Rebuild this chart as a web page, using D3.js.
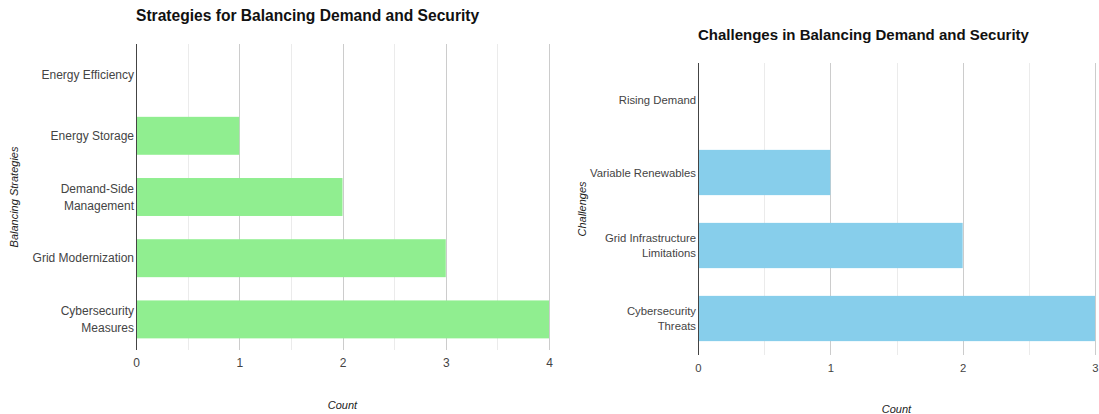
<!DOCTYPE html>
<html>
<head>
<meta charset="utf-8">
<script src="https://cdn.jsdelivr.net/npm/d3@7"></script>
<style>
  html, body { margin: 0; padding: 0; background: #fff; }
  svg { display: block; font-family: "Liberation Sans", Arial, sans-serif; }
</style>
</head>
<body>
<svg id="chart" width="1099" height="414"></svg>
<script>
// ---- data ----
const strategyCategories = ["Energy Efficiency", "Energy Storage", "Demand-Side\nManagement", "Grid Modernization", "Cybersecurity\nMeasures"];
const strategyValues = [0, 1, 2, 3, 4];
const strategyTicks = [0, 1, 2, 3, 4];

const challengeCategories = ["Rising Demand", "Variable Renewables", "Grid Infrastructure\nLimitations", "Cybersecurity\nThreats"];
const challengeValues = [0, 1, 2, 3];
const challengeTicks = [0, 1, 2, 3];

const titles = ["Strategies for Balancing Demand and Security", "Challenges in Balancing Demand and Security"];
const yTitles = ["Balancing Strategies", "Challenges"];
const xTitle = "Count";

const svg = d3.select("#chart");

function drawPanel(cfg) {
  const g = svg.append("g");
  const x = d3.scaleLinear().domain([0, cfg.max]).range([cfg.left, cfg.right]);
  const y = d3.scaleBand().domain(cfg.cats).range([cfg.top, cfg.bottom]).paddingInner(0.38).paddingOuter(0.19);

  // minor gridlines
  const minor = d3.range(0.5, cfg.max, 1);
  g.selectAll(".minor").data(minor).enter().append("line")
    .attr("x1", d => Math.round(x(d)) + 0.5).attr("x2", d => Math.round(x(d)) + 0.5)
    .attr("y1", cfg.top).attr("y2", cfg.bottom)
    .attr("stroke", "#ebebeb").attr("stroke-width", 1);
  // major gridlines
  g.selectAll(".major").data(cfg.ticks.filter(t => t > 0)).enter().append("line")
    .attr("x1", d => Math.round(x(d)) + 0.5).attr("x2", d => Math.round(x(d)) + 0.5)
    .attr("y1", cfg.top).attr("y2", cfg.bottom)
    .attr("stroke", "#cccccc").attr("stroke-width", 1);

  // bars
  g.selectAll(".bar").data(cfg.cats).enter().append("rect")
    .attr("x", x(0))
    .attr("y", d => y(d))
    .attr("width", (d, i) => Math.max(1, x(cfg.values[i]) - x(0)))
    .attr("height", y.bandwidth())
    .attr("fill", cfg.color);

  // baseline
  g.append("line")
    .attr("x1", Math.round(x(0)) + 0.5).attr("x2", Math.round(x(0)) + 0.5)
    .attr("y1", cfg.top).attr("y2", cfg.bottom)
    .attr("stroke", "#444").attr("stroke-width", 1);

  // x tick labels via axis
  const xAxis = d3.axisBottom(x).tickValues(cfg.ticks).tickFormat(d3.format("d")).tickSize(0).tickPadding(0);
  const xa = g.append("g").attr("transform", `translate(0,${cfg.bottom + 17})`).call(xAxis);
  xa.select(".domain").remove();
  xa.selectAll("text").attr("font-size", cfg.labelSize).attr("fill", "#444").attr("font-family", "Liberation Sans, Arial, sans-serif").attr("dy", 0);

  // y category labels
  const lineH = cfg.lineH;
  cfg.cats.forEach(c => {
    const lines = c.split("\n");
    const cy = y(c) + y.bandwidth() / 2;
    const t = g.append("text")
      .attr("text-anchor", "end")
      .attr("font-size", cfg.labelSize)
      .attr("fill", "#444");
    lines.forEach((ln, k) => {
      t.append("tspan")
        .attr("x", cfg.left - 2)
        .attr("y", cy + 4 + (k - (lines.length - 1) / 2) * lineH)
        .text(ln);
    });
  });

  // title
  g.append("text")
    .attr("x", cfg.left)
    .attr("y", cfg.titleY)
    .attr("font-size", cfg.titleSize)
    .attr("font-weight", "bold")
    .attr("fill", "#111")
    .text(cfg.title);

  // x title
  g.append("text")
    .attr("x", (cfg.left + cfg.right) / 2)
    .attr("y", cfg.xTitleY)
    .attr("text-anchor", "middle")
    .attr("font-size", 11)
    .attr("font-style", "italic")
    .attr("fill", "#222")
    .text(xTitle);

  // y title
  g.append("text")
    .attr("transform", `translate(${cfg.yTitleX},${(cfg.top + cfg.bottom) / 2}) rotate(-90)`)
    .attr("text-anchor", "middle")
    .attr("font-size", 11)
    .attr("font-style", "italic")
    .attr("fill", "#222")
    .text(cfg.yTitle);
}

drawPanel({
  cats: strategyCategories, values: strategyValues, ticks: strategyTicks, max: 4,
  left: 136, right: 549, top: 44, bottom: 350, color: "#90ee90",
  title: titles[0], titleY: 21, titleSize: 15.6, labelSize: 12, lineH: 17,
  xTitleY: 409, yTitleX: 18, yTitle: yTitles[0]
});

drawPanel({
  cats: challengeCategories, values: challengeValues, ticks: challengeTicks, max: 3,
  left: 698, right: 1095, top: 63, bottom: 355, color: "#87ceeb",
  title: titles[1], titleY: 40, titleSize: 15, labelSize: 11.3, lineH: 15.5,
  xTitleY: 413, yTitleX: 586, yTitle: yTitles[1]
});
</script>
</body>
</html>
